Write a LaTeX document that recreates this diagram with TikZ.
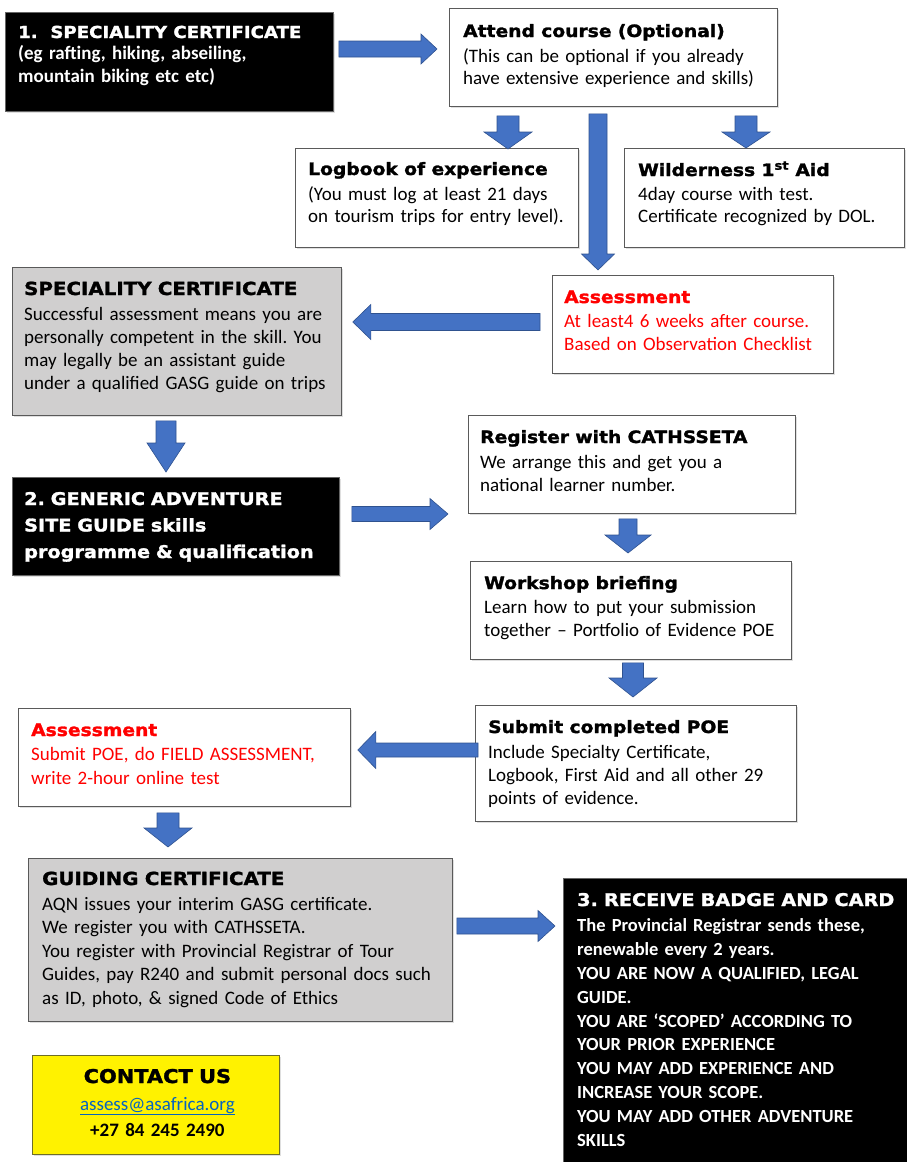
\documentclass[tikz,border=0pt]{standalone}
\usepackage{fontspec}
\setmainfont{Carlito}
\newfontfamily\hfont{DejaVu Sans}[FakeStretch=1.1, FakeBold=1.6]
\usetikzlibrary{calc,shadows}

\definecolor{arrowblue}{RGB}{68,114,196}
\definecolor{arrowedge}{RGB}{47,82,143}
\definecolor{boxgrey}{RGB}{208,207,207}
\definecolor{boxline}{RGB}{90,90,90}
\definecolor{contactline}{RGB}{110,110,40}
\definecolor{linkblue}{RGB}{5,99,193}
\definecolor{alertred}{RGB}{255,0,0}

\newcommand{\bodyfont}[1][23]{\fontsize{19}{#1}\selectfont}
\newcommand{\hd}[2][17]{{\hfont\bfseries\fontsize{#1}{23}\selectfont #2}}
% block arrow: from, to, half shaft, half head, head length
\newcommand{\blockarrow}[5]{%
  \coordinate (ah) at ($(#2)!#5!(#1)$);
  \filldraw[barrow] ($(#1)!#3!90:(#2)$) -- ($(ah)!#3!90:(#2)$) -- ($(ah)!#4!90:(#2)$) -- (#2)
    -- ($(ah)!#4!-90:(#2)$) -- ($(ah)!#3!-90:(#2)$) -- ($(#1)!#3!-90:(#2)$) -- cycle;
}

\tikzset{
  box/.style={draw=boxline, fill=white, line width=0.8pt, anchor=north west, inner sep=0pt,
    drop shadow={shadow xshift=1.5pt, shadow yshift=-1.5pt, opacity=0.25}},
  greybox/.style={box, fill=boxgrey, draw=black!65},
  blackbox/.style={box, fill=black, draw=black!60},
  yellowbox/.style={box, fill=yellow, draw=contactline},
  txt/.style={anchor=base west, inner sep=0pt, text width=420pt, align=left, font=\bodyfont},
  barrow/.style={fill=arrowblue, draw=arrowedge, line width=0.6pt},
}

\begin{document}
\frenchspacing
\begin{tikzpicture}[x=1pt, y=-1pt]
  \useasboundingbox (0,0) rectangle (906,1162);

  % boxes
  \node[blackbox, minimum width=328pt, minimum height=99pt] (spec1) at (5,12) {};
  \node[box, minimum width=328pt, minimum height=98pt] (course) at (449,8) {};
  \node[box, minimum width=283pt, minimum height=99pt] (logbook) at (295,148) {};
  \node[box, minimum width=280pt, minimum height=99pt] (aid) at (624,148) {};
  \node[box, minimum width=281pt, minimum height=98pt] (assess1) at (552,275) {};
  \node[greybox, minimum width=329pt, minimum height=148pt] (spec) at (12,267) {};
  \node[blackbox, minimum width=327pt, minimum height=98pt] (gasg) at (12,477) {};
  \node[box, minimum width=327pt, minimum height=98pt] (register) at (468,415) {};
  \node[box, minimum width=321pt, minimum height=98pt] (workshop) at (470,561) {};
  \node[box, minimum width=321pt, minimum height=116pt] (submit) at (475,705) {};
  \node[box, minimum width=332pt, minimum height=98pt] (assess2) at (18,708) {};
  \node[greybox, minimum width=424pt, minimum height=163pt] (guiding) at (28,858) {};
  \node[blackbox, minimum width=345pt, minimum height=290pt] (badge) at (563,878) {};
  \node[yellowbox, minimum width=247pt, minimum height=99pt] (contact) at (32,1055) {};

  % texts
  \node[txt, text=white, font=\bodyfont\bfseries] (spec1txt) at ($(spec1.north west)+(13,26)$)
    {\hd[16.5]{1.\ \ SPECIALITY CERTIFICATE}\\[-2pt] (eg rafting, hiking, abseiling,\\ mountain biking etc etc)};
  \node[txt, font={\bodyfont[22]}] (coursetxt) at ($(course.north west)+(14,29)$)
    {\hd{Attend course (Optional)}\\[3pt] (This can be optional if you already\\ have extensive experience and skills)};
  \node[txt, font={\bodyfont[22]}] (logbooktxt) at ($(logbook.north west)+(13,27)$)
    {\hd{Logbook of experience}\\[3pt] (You must log at least 21 days\\ on tourism trips for entry level).};
  \node[txt, font={\bodyfont[22]}] (aidtxt) at ($(aid.north west)+(14,28)$)
    {\hd{Wilderness 1\textsuperscript{st} Aid}\\[2pt] 4day course with test.\\ Certificate recognized by DOL.};
  \node[txt, text=alertred] (assess1txt) at ($(assess1.north west)+(12,28)$)
    {\hd{Assessment}\\[1pt] At least4 6 weeks after course.\\ Based on Observation Checklist};
  \node[txt] (spectxt) at ($(spec.north west)+(12,28)$)
    {\hd[18]{SPECIALITY CERTIFICATE}\\[2pt] Successful assessment means you are\\ personally competent in the skill. You\\ may legally be an assistant guide\\ under a qualified GASG guide on trips};
  \node[txt, text=white, font={\hfont\bfseries\fontsize{17.5}{26.5}\selectfont}] (gasgtxt) at ($(gasg.north west)+(12,28)$)
    {2. GENERIC ADVENTURE\\ SITE GUIDE skills\\ programme \& qualification};
  \node[txt] (registertxt) at ($(register.north west)+(12,28)$)
    {\hd{Register with CATHSSETA}\\[2pt] We arrange this and get you a\\ national learner number.};
  \node[txt] (workshoptxt) at ($(workshop.north west)+(14,28)$)
    {\hd{Workshop briefing}\\[1pt] Learn how to put your submission\\ together – Portfolio of Evidence POE};
  \node[txt] (submittxt) at ($(submit.north west)+(13,28)$)
    {\hd{Submit completed POE}\\[2pt] Include Specialty Certificate,\\ Logbook, First Aid and all other 29\\ points of evidence.};
  \node[txt, text=alertred, font={\bodyfont[24]}] (assess2txt) at ($(assess2.north west)+(13,28)$)
    {\hd{Assessment}\\ Submit POE, do FIELD ASSESSMENT,\\ write 2-hour online test};
  \node[txt, font={\bodyfont[23.5]}] (guidingtxt) at ($(guiding.north west)+(14,27)$)
    {\hd[18]{GUIDING CERTIFICATE}\\[1.5pt] AQN issues your interim GASG certificate.\\ We register you with CATHSSETA.\\ You register with Provincial Registrar of Tour\\ Guides, pay R240 and submit personal docs such\\ as ID, photo, \& signed Code of Ethics};
  \node[txt, text=white, font={\fontsize{18.5}{23.8}\selectfont\bfseries}] (badgetxt) at ($(badge.north west)+(14,28)$)
    {\hd[17.5]{3. RECEIVE BADGE AND CARD}\\[2pt] The Provincial Registrar sends these,\\ renewable every 2 years.\\ YOU ARE NOW A QUALIFIED, LEGAL\\ GUIDE.\\ YOU ARE ‘SCOPED’ ACCORDING TO\\ YOUR PRIOR EXPERIENCE\\ YOU MAY ADD EXPERIENCE AND\\ INCREASE YOUR SCOPE.\\ YOU MAY ADD OTHER ADVENTURE\\ SKILLS};
  \node[txt, anchor=base, text width=240pt, align=center, font={\bodyfont[26]}] (contacttxt) at ($(contact.north)+(1.5,28)$)
    {\hd[19]{CONTACT US}\\[1pt] {\color{linkblue}\underline{assess@asafrica.org}}\\ \textbf{+27 84 245 2490}};

  % arrow ends
  \coordinate (a1s) at ($(spec1.north east)+(5,37)$);
  \coordinate (a1e) at ($(course.north west)+(-12,41)$);
  \coordinate (a2s) at ($(course.south west)+(59,9)$);
  \coordinate (a2e) at ($(logbook.north west)+(213,1)$);
  \coordinate (a3s) at ($(course.south west)+(149,7)$);
  \coordinate (a3e) at ($(assess1.north west)+(46,-5)$);
  \coordinate (a4s) at ($(course.south west)+(297,9)$);
  \coordinate (a4e) at ($(aid.north west)+(122,0)$);
  \coordinate (a5s) at ($(assess1.north west)+(-12,47)$);
  \coordinate (a5e) at ($(spec.north east)+(11,55)$);
  \coordinate (a6s) at ($(spec.south west)+(154,5)$);
  \coordinate (a6e) at ($(gasg.north west)+(154,-5)$);
  \coordinate (a7s) at ($(gasg.north east)+(12,37)$);
  \coordinate (a7e) at ($(register.north west)+(-20,99)$);
  \coordinate (a8s) at ($(register.south west)+(160,5)$);
  \coordinate (a8e) at ($(workshop.north west)+(158,-8)$);
  \coordinate (a9s) at ($(workshop.south west)+(163,3)$);
  \coordinate (a9e) at ($(submit.north west)+(158,-8)$);
  \coordinate (a10s) at ($(submit.north west)+(3,45)$);
  \coordinate (a10e) at ($(assess2.north east)+(7,42)$);
  \coordinate (a11s) at ($(assess2.south west)+(150,6)$);
  \coordinate (a11e) at ($(guiding.north west)+(140,-11)$);
  \coordinate (a12s) at ($(guiding.north east)+(4,68)$);
  \coordinate (a12e) at ($(badge.north west)+(-8,48)$);

  % block arrows
  \blockarrow{a1s}{a1e}{8pt}{15pt}{16pt}
  \blockarrow{a2s}{a2e}{11pt}{24pt}{17pt}
  \blockarrow{a3s}{a3e}{9pt}{16.5pt}{16pt}
  \blockarrow{a4s}{a4e}{11pt}{24pt}{16pt}
  \blockarrow{a5s}{a5e}{8.5pt}{17.5pt}{18pt}
  \blockarrow{a6s}{a6e}{10pt}{19pt}{29pt}
  \blockarrow{a7s}{a7e}{7.5pt}{15.5pt}{18pt}
  \blockarrow{a8s}{a8e}{9pt}{23pt}{18pt}
  \blockarrow{a9s}{a9e}{10.5pt}{24pt}{19pt}
  \blockarrow{a10s}{a10e}{7pt}{18.5pt}{18pt}
  \blockarrow{a11s}{a11e}{11pt}{24pt}{19pt}
  \blockarrow{a12s}{a12e}{8pt}{15.5pt}{17pt}
\end{tikzpicture}
\end{document}
